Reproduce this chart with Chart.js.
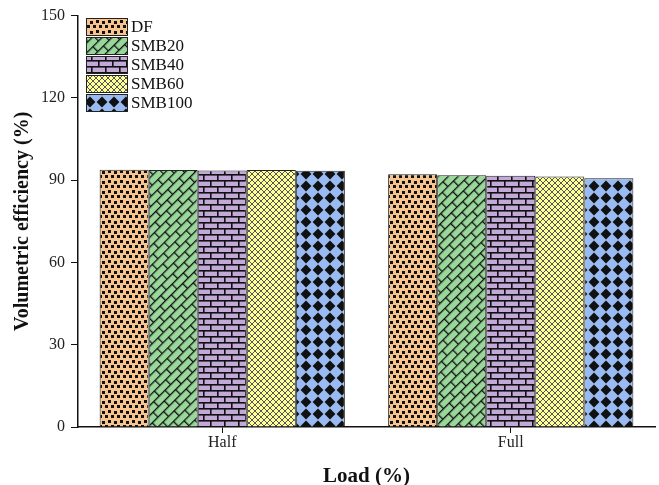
<!DOCTYPE html>
<html>
<head>
<meta charset="UTF-8">
<title>Volumetric efficiency</title>
<script src="https://cdn.jsdelivr.net/npm/chart.js"></script>
<style>
  body { margin: 0; background: #fff; }
  #wrap { width: 659px; height: 485px; }
</style>
</head>
<body>
<div id="wrap"><canvas id="grafico" width="659" height="485"></canvas></div>
<script>
  // dados
  var cargas = ['Half', 'Full']
  var combustiveis = ['DF', 'SMB20', 'SMB40', 'SMB60', 'SMB100']
  var valDF = [93.8, 92.2]
  var valSMB20 = [93.7, 91.8]
  var valSMB40 = [93.5, 91.6]
  var valSMB60 = [93.7, 91.3]
  var valSMB100 = [93.4, 90.7]
  var ticksY = [0, 30, 60, 90, 120, 150]

  var serif = '"Liberation Serif", "DejaVu Serif", serif'

  function tile(w, h, fundo, desenho, giro) {
    var c = document.createElement('canvas')
    c.width = w; c.height = h
    var g = c.getContext('2d')
    g.fillStyle = fundo
    g.fillRect(0, 0, w, h)
    g.fillStyle = '#111'
    g.strokeStyle = '#111'
    desenho(g)
    var p = document.createElement('canvas').getContext('2d').createPattern(c, 'repeat')
    if (giro) p.setTransform(new DOMMatrix().rotate(giro))
    return p
  }

  // pontinhos pretos
  var patDF = tile(12, 10, '#f7c48e', function (g) {
    var pts = [[0, 0], [6, 1], [3, 5], [9, 5]]
    pts.forEach(function (p) { g.fillRect(p[0], p[1], 3, 3) })
  })
  // tijolo diagonal
  var patSMB20 = tile(16, 14, '#99d79a', function (g) {
    g.fillRect(0, 0, 16, 1.3)
    g.fillRect(0, 7, 16, 1.3)
    g.fillRect(0, 0, 1.3, 7)
    g.fillRect(8, 7, 1.3, 7)
  }, -45)
  // tijolos
  var patSMB40 = tile(14, 12, '#c3a9d8', function (g) {
    g.fillRect(0, 0, 14, 1.6)
    g.fillRect(0, 6, 14, 1.6)
    g.fillRect(0, 0, 1.6, 6)
    g.fillRect(7, 6, 1.6, 6)
  })
  // xadrez cruzado
  var patSMB60 = tile(6, 6, '#ffff99', function (g) {
    g.strokeStyle = '#555'
    g.lineWidth = 1
    g.beginPath()
    g.moveTo(0, 0); g.lineTo(6, 6)
    g.moveTo(6, 0); g.lineTo(0, 6)
    g.stroke()
  })
  // losangos
  var patSMB100 = tile(12, 12, '#99bbf2', function (g) {
    g.beginPath()
    g.moveTo(6, 0.6); g.lineTo(11.4, 6); g.lineTo(6, 11.4); g.lineTo(0.6, 6)
    g.closePath(); g.fill()
  })

  var padroes = [patDF, patSMB20, patSMB40, patSMB60, patSMB100]
  var valores = [valDF, valSMB20, valSMB40, valSMB60, valSMB100]

  var conjuntos = combustiveis.map(function (nome, i) {
    return {
      label: nome,
      data: valores[i],
      backgroundColor: padroes[i],
      borderColor: '#222',
      borderWidth: 1,
      borderSkipped: 'bottom',
      categoryPercentage: 0.85,
      barPercentage: 1
    }
  })

  // legenda desenhada a mao, dentro do grafico
  var legendaPlugin = {
    id: 'legendaPlugin',
    afterDraw: function (chart) {
      var ctx = chart.ctx
      var x = 86, y = 18, w = 41, h = 17, passo = 19
      ctx.save()
      chart.data.datasets.forEach(function (ds, i) {
        ctx.fillStyle = ds.backgroundColor
        ctx.fillRect(x, y + i * passo, w, h)
        ctx.strokeStyle = '#222'
        ctx.lineWidth = 1
        ctx.strokeRect(x + 0.5, y + i * passo + 0.5, w, h)
        ctx.fillStyle = '#111'
        ctx.font = '17px ' + serif
        ctx.textBaseline = 'middle'
        ctx.fillText(ds.label, x + w + 4, y + i * passo + h / 2 + 1)
      })
      ctx.restore()
    }
  }

  var meuGrafico = new Chart(document.getElementById('grafico'), {
    type: 'bar',
    data: { labels: cargas, datasets: conjuntos },
    options: {
      responsive: false,
      animation: false,
      layout: { padding: { top: 9, right: 4, left: 11, bottom: 0 } },
      plugins: { legend: { display: false }, tooltip: { enabled: false } },
      scales: {
        x: {
          grid: { display: true, drawOnChartArea: false, drawTicks: true, tickLength: 6, tickColor: '#111', offset: false },
          border: { color: '#111', width: 1.5 },
          ticks: { color: '#222', font: { family: serif, size: 16 }, padding: 0 },
          title: {
            display: true, text: 'Load (%)', color: '#111',
            font: { family: serif, size: 21, weight: 'bold', lineHeight: 0.8 }, padding: { top: 16, bottom: 0 }
          }
        },
        y: {
          min: 0, max: 150,
          afterBuildTicks: function (ax) { ax.ticks = ticksY.map(function (v) { return { value: v } }) },
          grid: { display: true, drawOnChartArea: false, drawTicks: true, tickLength: 7, tickColor: '#111' },
          border: { color: '#111', width: 1.5 },
          ticks: { color: '#222', font: { family: serif, size: 16 }, padding: 6 },
          title: {
            display: true, text: 'Volumetric efficiency (%)', color: '#111',
            font: { family: serif, size: 20, weight: 'bold' }, padding: { top: 0, bottom: 0 }
          }
        }
      }
    },
    plugins: [legendaPlugin]
  })
</script>
</body>
</html>
